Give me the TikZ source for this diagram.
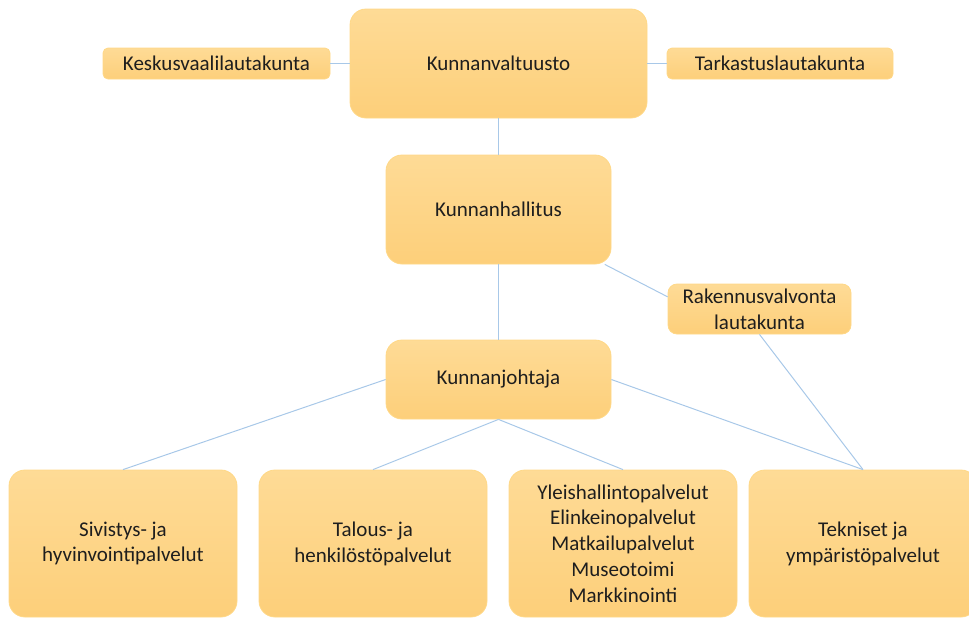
\documentclass[tikz,border=0pt]{standalone}
\usepackage{fontspec}
\setmainfont{Carlito}
\usetikzlibrary{calc}
\definecolor{boxtop}{RGB}{254,219,150}
\definecolor{boxbot}{RGB}{253,207,122}
\definecolor{boxline}{RGB}{255,216,135}
\definecolor{conn}{RGB}{168,200,232}
\definecolor{txt}{RGB}{30,30,30}
\tikzset{
  orgbox/.style={draw=boxline, line width=0.8pt, top color=boxtop, bottom color=boxbot,
    inner sep=0pt, align=center, text=txt,
    font=\fontsize{21}{25.8}\selectfont},
  bigbox/.style={orgbox, rounded corners=16pt},
  smallbox/.style={orgbox, rounded corners=5pt},
  midbox/.style={orgbox, rounded corners=9pt},
  link/.style={draw=conn, line width=1pt}
}
\begin{document}
\begin{tikzpicture}[x=1pt,y=-1pt]
\useasboundingbox (0,0) rectangle (969,619);
\node[bigbox, minimum width=297pt, minimum height=109pt] (kv) at (498.5,63.5) {Kunnanvaltuusto};
\node[smallbox, minimum width=227pt, minimum height=31pt] (kes) at (216.5,63.5) {Keskusvaalilautakunta};
\node[smallbox, minimum width=226pt, minimum height=31pt] (tar) at (780,63.5) {Tarkastuslautakunta};
\node[bigbox, minimum width=225pt, minimum height=109pt] (kh) at (498.5,209.5) {Kunnanhallitus};
\node[midbox, minimum width=183pt, minimum height=50pt] (rk) at (759.5,309) {Rakennusvalvonta\\lautakunta};
\node[bigbox, minimum width=225pt, minimum height=79pt] (kj) at (498.5,379.5) {Kunnanjohtaja};
\node[bigbox, minimum width=228pt, minimum height=147pt] (siv) at (123,543.5) {Sivistys- ja\\hyvinvointipalvelut};
\node[bigbox, minimum width=228pt, minimum height=147pt] (tal) at (373,543.5) {Talous- ja\\henkilöstöpalvelut};
\node[bigbox, minimum width=228pt, minimum height=147pt] (yle) at (623,543.5) {Yleishallintopalvelut\\Elinkeinopalvelut\\Matkailupalvelut\\Museotoimi\\Markkinointi};
\node[bigbox, minimum width=228pt, minimum height=147pt] (tek) at (863,543.5) {Tekniset ja\\ympäristöpalvelut};
\coordinate (rkw) at ($(rk.north west)!0.26!(rk.south west)$);
\draw[link] (kes) -- (kv);
\draw[link] (kv) -- (tar);
\draw[link] (kv) -- (kh);
\draw[link] (kh) -- (kj);
\draw[link] (kh) -- (rkw);
\draw[link] (rk.south) -- (tek.north);
\draw[link] (kj.east) -- (tek.north);
\draw[link] (kj.west) -- (siv.north);
\draw[link] (kj.south) -- (tal.north);
\draw[link] (kj.south) -- (yle.north);
\end{tikzpicture}
\end{document}
